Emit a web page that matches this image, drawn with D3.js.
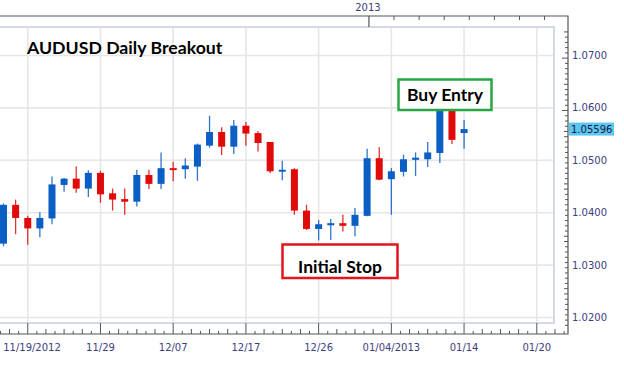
<!DOCTYPE html>
<html>
<head>
<meta charset="utf-8">
<script src="https://cdn.jsdelivr.net/npm/d3@7"></script>
<style>
  html, body { margin: 0; padding: 0; background: #fff; }
  svg { display: block; }
</style>
</head>
<body>
<svg id="chart" width="624" height="368"></svg>
<script>
// ---- data ----
const opens  = [1.0341,1.0415,1.0390,1.0370,1.0389,1.0453,1.0465,1.0446,1.0476,1.0437,1.0426,1.0421,1.0472,1.0455,1.0485,1.0483,1.0488,1.0528,1.0554,1.0526,1.0566,1.0552,1.0535,1.0479,1.0483,1.0404,1.0369,1.0376,1.0380,1.0375,1.0394,1.0504,1.0464,1.0478,1.0501,1.0502,1.0514,1.0598,1.0552];
const highs  = [1.0418,1.0425,1.0394,1.0401,1.0469,1.0466,1.0488,1.0481,1.0480,1.0446,1.0446,1.0482,1.0482,1.0515,1.0497,1.0504,1.0532,1.0585,1.0563,1.0577,1.0573,1.0556,1.0535,1.0499,1.0485,1.0415,1.0386,1.0388,1.0396,1.0409,1.0522,1.0525,1.0485,1.0511,1.0515,1.0535,1.0608,1.0605,1.0577];
const lows   = [1.0336,1.0359,1.0339,1.0353,1.0378,1.0440,1.0438,1.0430,1.0419,1.0404,1.0396,1.0412,1.0445,1.0445,1.0460,1.0465,1.0461,1.0524,1.0510,1.0512,1.0528,1.0517,1.0476,1.0462,1.0396,1.0367,1.0347,1.0348,1.0364,1.0355,1.0393,1.0462,1.0396,1.0469,1.0470,1.0487,1.0495,1.0531,1.0522];
const closes = [1.0415,1.0390,1.0370,1.0390,1.0454,1.0465,1.0446,1.0476,1.0435,1.0425,1.0421,1.0472,1.0455,1.0485,1.0482,1.0490,1.0530,1.0554,1.0526,1.0566,1.0551,1.0533,1.0479,1.0482,1.0404,1.0369,1.0378,1.0380,1.0375,1.0396,1.0504,1.0463,1.0479,1.0502,1.0505,1.0515,1.0600,1.0539,1.05596];

const xTickIndex  = [2, 8, 14, 20, 26, 32, 38, 44];
const xTickLabels = ["11/19/2012","11/29","12/07","12/17","12/26","01/04/2013","01/14","01/20"];
const yTicks      = [1.02, 1.03, 1.04, 1.05, 1.06, 1.07];
const yTickLabels = ["1.0200","1.0300","1.0400","1.0500","1.0600","1.0700"];
const yearLabel   = "2013";
const yearIndex   = 30.15;
const lastPrice   = 1.05596;
const lastPriceLabel = "1.05596";
const title = "AUDUSD Daily Breakout";

// ---- layout ----
const svg = d3.select("#chart");
const x = d3.scaleLinear().domain([0, 44]).range([3.5, 536.8]);
const y = d3.scaleLinear().domain([1.02, 1.07]).range([317.5, 55.5]);

const plotLeft = 0, plotRight = 554, plotTop = 27, plotBottom = 323;
const axisRight = 568, axisTop = 16, axisBottom = 334;
const axisColor = "#555";
const labelColor = "#3d3d80";
const labelFont = "DejaVu Sans, Verdana, sans-serif";

// gridlines
svg.append("g").selectAll("line").data(yTicks).join("line")
  .attr("x1", plotLeft).attr("x2", plotRight)
  .attr("y1", d => y(d)).attr("y2", d => y(d))
  .attr("stroke", "#e6e6e6").attr("stroke-width", 1.6);
svg.append("g").selectAll("line").data(xTickIndex).join("line")
  .attr("x1", d => x(d)).attr("x2", d => x(d))
  .attr("y1", plotTop).attr("y2", plotBottom)
  .attr("stroke", "#e6e6e6").attr("stroke-width", 1.6);

// inner plot border
svg.append("path")
  .attr("d", `M${plotLeft},${plotTop}H${plotRight}V${plotBottom}H${plotLeft}`)
  .attr("fill", "none").attr("stroke", "#d3dae6").attr("stroke-width", 2);

// outer frame: top axis, right axis, bottom axis
svg.append("path")
  .attr("d", `M0,${axisTop}H${axisRight}V${axisBottom}H0`)
  .attr("fill", "none").attr("stroke", axisColor).attr("stroke-width", 1.2);

// bottom axis ticks (8 subdivisions per labelled interval)
const minorX = d3.range(-16, 62).map(k => 2 + k * 0.75).filter(v => x(v) > 0 && x(v) < axisRight);
svg.append("g").selectAll("line").data(minorX).join("line")
  .attr("x1", d => x(d)).attr("x2", d => x(d))
  .attr("y1", d => {
    const k = Math.round((d - 2) / 0.75);
    if (((k % 8) + 8) % 8 === 0) return axisBottom - 11;
    return (k % 2 === 0) ? axisBottom - 5 : axisBottom - 3;
  })
  .attr("y2", axisBottom)
  .attr("stroke", axisColor).attr("stroke-width", 1);

svg.append("g").selectAll("text").data(xTickIndex).join("text")
  .attr("x", d => Math.max(x(d), 32))
  .attr("y", 351)
  .attr("text-anchor", "middle")
  .attr("font-family", labelFont).attr("font-size", 10)
  .attr("fill", labelColor)
  .text((d, i) => xTickLabels[i]);

// top axis
svg.append("line")
  .attr("x1", x(yearIndex)).attr("x2", x(yearIndex))
  .attr("y1", axisTop).attr("y2", plotTop)
  .attr("stroke", axisColor).attr("stroke-width", 1.2);
const topTicks = d3.range(1, 8).map(k => yearIndex + k * 2.07);
svg.append("g").selectAll("line").data(topTicks).join("line")
  .attr("x1", d => x(d)).attr("x2", d => x(d))
  .attr("y1", axisTop).attr("y2", axisTop + 4)
  .attr("stroke", axisColor).attr("stroke-width", 1);
svg.append("text")
  .attr("x", x(yearIndex) - 1).attr("y", 11)
  .attr("text-anchor", "middle")
  .attr("font-family", labelFont).attr("font-size", 10)
  .attr("fill", labelColor).text(yearLabel);

// right axis ticks
const minorY = d3.range(1.0185, 1.0745, 0.001);
svg.append("g").selectAll("line").data(minorY).join("line")
  .attr("x1", d => {
    const m = Math.round(d * 1000) % 10;
    return axisRight - (m === 0 ? 6 : (m === 5 ? 4 : 3));
  })
  .attr("x2", axisRight)
  .attr("y1", d => y(d)).attr("y2", d => y(d))
  .attr("stroke", axisColor).attr("stroke-width", 1);

svg.append("g").selectAll("text").data(yTicks).join("text")
  .attr("x", 572).attr("y", d => y(d))
  .attr("dy", "0.35em")
  .attr("font-family", labelFont).attr("font-size", 10)
  .attr("fill", labelColor)
  .text((d, i) => yTickLabels[i]);

// last price marker
svg.append("rect")
  .attr("x", 569).attr("y", y(lastPrice) - 6.5)
  .attr("width", 45).attr("height", 13)
  .attr("fill", "#5cc6f2");
svg.append("text")
  .attr("x", 571).attr("y", y(lastPrice))
  .attr("dy", "0.35em")
  .attr("font-family", labelFont).attr("font-size", 10)
  .attr("fill", "#1a1a40").text(lastPriceLabel);

// candles
const bodyW = 7;
const candles = opens.map((o, i) => ({i, o, h: highs[i], l: lows[i], c: closes[i]}));
const colorOf = d => d.c >= d.o ? "#0a5ec4" : "#e00a0a";
const gC = svg.append("g");
gC.selectAll("line").data(candles).join("line")
  .attr("x1", d => x(d.i)).attr("x2", d => x(d.i))
  .attr("y1", d => y(d.h)).attr("y2", d => y(d.l))
  .attr("stroke", d => colorOf(d)).attr("stroke-width", 1.3).attr("stroke-opacity", 0.85);
gC.selectAll("rect").data(candles).join("rect")
  .attr("x", d => x(d.i) - bodyW / 2)
  .attr("y", d => y(Math.max(d.o, d.c)))
  .attr("width", bodyW)
  .attr("height", d => Math.max(2, Math.abs(y(d.o) - y(d.c))))
  .attr("fill", d => colorOf(d));

// title
svg.append("text")
  .attr("x", 27).attr("y", 54)
  .attr("font-family", "Lato, 'Open Sans', sans-serif")
  .attr("font-weight", "bold").attr("font-size", 17.7)
  .attr("fill", "#000").text(title);

// annotations
function callout(x0, y0, w, h, stroke, label, baseline) {
  svg.append("rect")
    .attr("x", x0).attr("y", y0).attr("width", w).attr("height", h)
    .attr("fill", "#fff").attr("stroke", stroke).attr("stroke-width", 2.5);
  svg.append("text")
    .attr("x", x0 + w / 2).attr("y", baseline)
    .attr("text-anchor", "middle")
    .attr("font-family", "Lato, 'Open Sans', sans-serif")
    .attr("font-weight", "bold").attr("font-size", 17.5)
    .attr("fill", "#000").text(label);
}
callout(398.5, 79.5, 93, 30.5, "#27a844", "Buy Entry", 101);
callout(282.5, 244.5, 115, 33.5, "#e3141e", "Initial Stop", 272.5);
</script>
</body>
</html>
